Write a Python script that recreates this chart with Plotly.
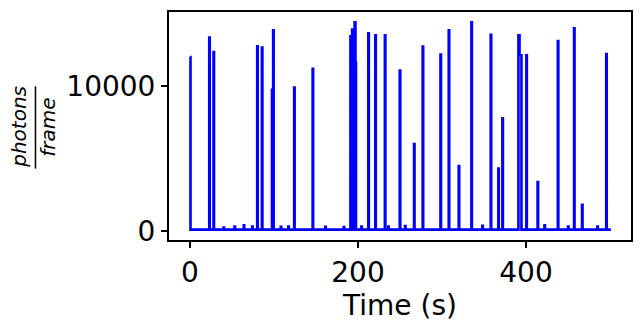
import plotly.graph_objects as go

# ---- data ----
baseline = 110
t_end = 501
spike_t = [0, 22.9, 28, 80, 85.6, 97.6, 99, 124, 146, 191, 193, 196, 197,
           212.3, 220.6, 232, 249.7, 266.7, 277, 298.2, 308, 319.9, 335, 358,
           367, 371.9, 391, 392.3, 394, 400.4, 413.8, 437.9, 457.2, 466.7, 495.5]
spike_h = [12000, 13330, 12330, 12740, 12640, 9730, 13840, 9900, 11180, 13420,
           13880, 14380, 11600, 13630, 13490, 13490, 11070, 6000, 12710, 12160,
           13840, 4490, 14380, 13530, 4310, 7780, 13490, 12120, 12120, 12120,
           3380, 13100, 13970, 1820, 12190]
bump_t = [40, 53, 64, 74, 108, 117, 161, 183, 204, 236, 256, 348, 422, 450, 485]
bump_h = [260, 330, 400, 330, 300, 330, 300, 280, 330, 330, 350, 380, 400, 330, 330]
x_ticks = [0, 200, 400]
y_ticks = [0, 10000]

# ---- assemble the trace from the lists ----
events = sorted(zip(spike_t + bump_t, spike_h + bump_h))
xs, ys = [], []
for i, (t, h) in enumerate(events):
    prev_close = i > 0 and t - events[i - 1][0] <= 2
    next_close = i < len(events) - 1 and events[i + 1][0] - t <= 2
    if not prev_close and t - 0.6 >= 0:
        xs.append(t - 0.6); ys.append(baseline)
    xs.append(t); ys.append(h)
    if not next_close:
        xs.append(t + 0.6); ys.append(baseline)
xs.append(t_end); ys.append(baseline)

lo, hi = min(ys), max(ys)
pad_y = 0.05 * (hi - lo)
pad_x = 0.05 * 500

FONT = "DejaVu Sans"
fig = go.Figure(go.Scatter(x=xs, y=ys, mode="lines",
                           line=dict(color="#0000ff", width=2.6, shape="hv")))

axis_common = dict(showline=True, linewidth=2, linecolor="black", mirror=True,
                   ticks="outside", ticklen=6, tickwidth=2, tickcolor="black",
                   showgrid=False, zeroline=False,
                   tickfont=dict(family=FONT, size=28, color="black"))
fig.update_xaxes(range=[-pad_x, 500 + pad_x], tickvals=x_ticks,
                 title=dict(text="Time (s)", font=dict(family=FONT, size=28, color="black"),
                            standoff=4),
                 **axis_common)
fig.update_yaxes(range=[lo - pad_y, hi + pad_y], tickvals=y_ticks,
                 ticktext=[str(v) for v in y_ticks], **axis_common)

# y-axis label: photons / frame as a fraction
fig.add_annotation(text="<i>photons</i>", xref="paper", yref="paper",
                   x=-0.325, y=0.496, textangle=-90, showarrow=False,
                   xanchor="center", yanchor="middle",
                   font=dict(family=FONT, size=20, color="black"))
fig.add_annotation(text="<i>frame</i>", xref="paper", yref="paper",
                   x=-0.262, y=0.496, textangle=-90, showarrow=False,
                   xanchor="center", yanchor="middle",
                   font=dict(family=FONT, size=20, color="black"))
fig.add_shape(type="line", xref="paper", yref="paper",
              x0=-0.289, x1=-0.289, y0=0.313, y1=0.674,
              line=dict(color="black", width=1.5))

fig.update_layout(width=643, height=325, plot_bgcolor="white", paper_bgcolor="white",
                  margin=dict(l=169, r=10, t=10, b=85), showlegend=False)
fig.write_html("out.html")
